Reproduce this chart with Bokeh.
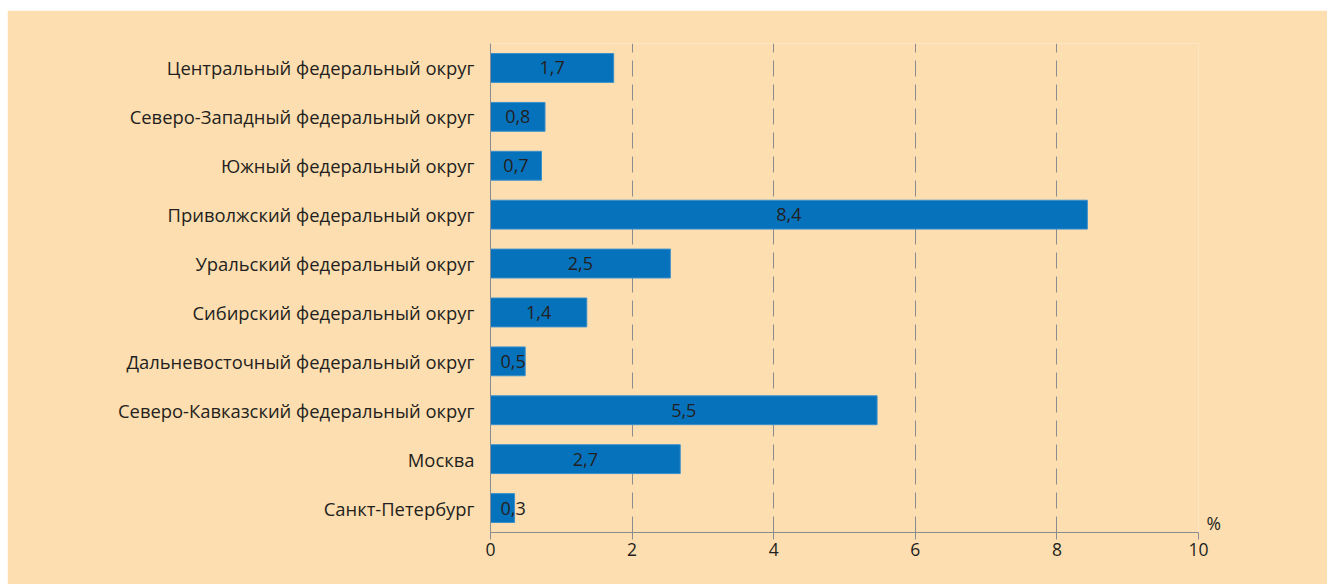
from bokeh.plotting import figure
from bokeh.models import (Range1d, FactorRange, ColumnDataSource, FixedTicker,
                          LabelSet, CategoricalAxis)
from bokeh.core.properties import value
from bokeh.embed import file_html
from bokeh.resources import INLINE

regions = [
    "Центральный федеральный округ",
    "Северо-Западный федеральный округ",
    "Южный федеральный округ",
    "Приволжский федеральный округ",
    "Уральский федеральный округ",
    "Сибирский федеральный округ",
    "Дальневосточный федеральный округ",
    "Северо-Кавказский федеральный округ",
    "Москва",
    "Санкт-Петербург",
]
values = [1.74, 0.77, 0.72, 8.43, 2.54, 1.36, 0.49, 5.46, 2.68, 0.34]
value_labels = ["1,7", "0,8", "0,7", "8,4", "2,5", "1,4", "0,5", "5,5", "2,7", "0,3"]
x_ticks = [0, 2, 4, 6, 8, 10]
unit_label = "%"

FONT = "Open Sans"
TXT = "#231F20"
BG = "#FDDEB0"
AXC = "#8A8C8F"

src = ColumnDataSource(dict(
    region=regions,
    val=values,
    lab=value_labels,
    lx=[max(v / 2, 0.32) for v in values],
))

p = figure(
    width=1320, height=574,
    y_range=FactorRange(*reversed(regions)),
    x_range=Range1d(0, 10),
    output_backend="svg", toolbar_location=None,
    min_border_left=483, min_border_right=125, min_border_top=33, min_border_bottom=52,
)
p.margin = (10, 0, 0, 7)
p.background_fill_color = BG
p.border_fill_color = BG
p.outline_line_color = None

p.hbar(y="region", right="val", left=0, height=0.59, source=src,
       fill_color="#0672BC", line_color="#3A8FCB", line_width=1)

p.add_layout(LabelSet(x="lx", y="region", text="lab", source=src,
                      text_align="center", text_baseline="middle",
                      text_font=value(FONT), text_font_size="18px", text_color=TXT))

p.xaxis.ticker = FixedTicker(ticks=x_ticks)
p.xaxis.axis_line_color = AXC
p.xaxis.major_tick_line_color = AXC
p.xaxis.major_tick_out = 7
p.xaxis.major_tick_in = 0
p.xaxis.minor_tick_line_color = None
p.xaxis.major_label_text_font = FONT
p.xaxis.major_label_text_font_size = "17.5px"
p.xaxis.major_label_text_color = TXT
p.xaxis.major_label_standoff = 3

p.yaxis.axis_line_color = AXC
p.yaxis.major_tick_line_color = None
p.yaxis.minor_tick_line_color = None
p.yaxis.major_label_text_font = FONT
p.yaxis.major_label_text_font_size = "18.4px"
p.yaxis.major_label_text_color = TXT
p.yaxis.major_label_standoff = 10

p.ygrid.grid_line_color = None
p.xgrid.grid_line_color = AXC
p.xgrid.grid_line_dash = "16 8"
p.xgrid.grid_line_width = 1

# unit label "%" just right of the end of the x axis: an auxiliary categorical
# axis whose lowest slot carries the unit text, other slots are blank
slots = [unit_label] + [" " * i for i in range(1, 27)]
p.extra_y_ranges = {"unit": FactorRange(*slots)}
unit_axis = CategoricalAxis(y_range_name="unit",
                            axis_line_color=None, major_tick_line_color=None,
                            major_tick_out=0, major_tick_in=0,
                            minor_tick_line_color=None, major_label_standoff=8,
                            major_label_text_font=FONT, major_label_text_font_size="17.5px",
                            major_label_text_color=TXT)
p.add_layout(unit_axis, "right")

open("out.html", "w").write(file_html(p, INLINE))
